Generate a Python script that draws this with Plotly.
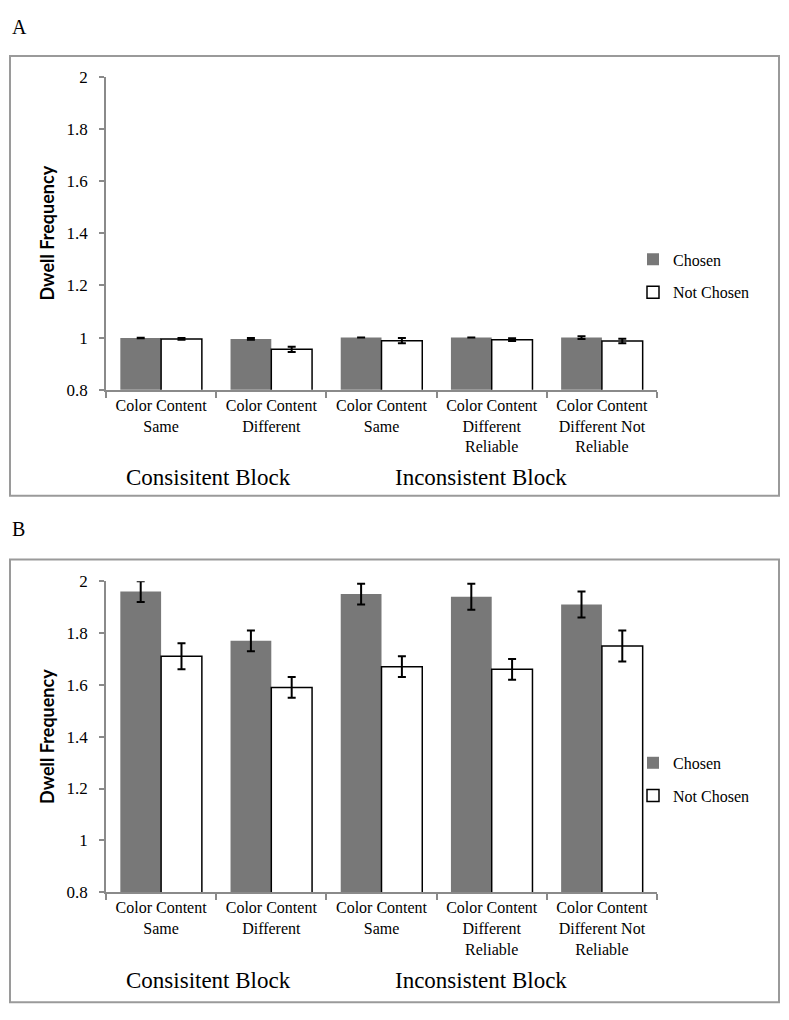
import plotly.graph_objects as go

# ---- data ----
categories = ["CB_same", "CB_diff", "IB_same", "IB_diff_rel", "IB_diff_notrel"]
tick_labels = [
    "Color Content<br>Same",
    "Color Content<br>Different",
    "Color Content<br>Same",
    "Color Content<br>Different<br>Reliable",
    "Color Content<br>Different Not<br>Reliable",
]
series_names = ["Chosen", "Not Chosen"]

a_chosen = [0.998, 0.995, 1.0, 1.0, 1.0]
a_chosen_err = [0.001, 0.003, 0.0, 0.0, 0.005]
a_not = [0.995, 0.955, 0.988, 0.992, 0.987]
a_not_err = [0.003, 0.010, 0.010, 0.005, 0.009]

b_chosen = [1.96, 1.77, 1.95, 1.94, 1.91]
b_chosen_err = [0.04, 0.04, 0.04, 0.05, 0.05]
b_not = [1.71, 1.59, 1.67, 1.66, 1.75]
b_not_err = [0.05, 0.04, 0.04, 0.04, 0.06]

block_labels = ["Consisitent Block", "Inconsistent Block"]
panel_labels = ["A", "B"]

W, H = 789, 1020
GRAY = "#787878"
AXC = "#8a8a8a"
SERIF = "Liberation Serif"


def px(x):
    return x / W


def py(y):
    return 1 - y / H


fig = go.Figure()

panels = [
    (a_chosen, a_chosen_err, a_not, a_not_err, "x", "y", "legend"),
    (b_chosen, b_chosen_err, b_not, b_not_err, "x2", "y2", "legend2"),
]
for ch, che, nc, nce, xa, ya, lg in panels:
    fig.add_trace(go.Bar(
        x=categories, y=ch, name=series_names[0], xaxis=xa, yaxis=ya,
        marker=dict(color=GRAY, line=dict(color=GRAY, width=0)),
        error_y=dict(type="data", array=che, color="black", thickness=2, width=4),
        legend=lg, legendgroup=lg + "c",
    ))
    fig.add_trace(go.Bar(
        x=categories, y=nc, name=series_names[1], xaxis=xa, yaxis=ya,
        marker=dict(color="white", line=dict(color="black", width=1.5)),
        error_y=dict(type="data", array=nce, color="black", thickness=2, width=4),
        legend=lg, legendgroup=lg + "n",
    ))

xdom = [px(106), px(657)]
common_x = dict(
    domain=xdom, type="category", tickmode="array", tickvals=categories,
    ticktext=tick_labels, showline=True, linecolor=AXC, linewidth=1.5,
    ticks="outside", tickson="boundaries", ticklen=6, tickcolor=AXC, tickwidth=1.5,
    tickfont=dict(family=SERIF, size=16, color="black"), showgrid=False,
    range=[-0.5, 4.5], fixedrange=True,
)
common_y = dict(
    range=[0.8, 2.0], dtick=0.2, tick0=0.8, showline=True, linecolor=AXC,
    linewidth=1.5, ticks="outside", ticklen=5, tickcolor=AXC, tickwidth=1.5,
    tickfont=dict(family=SERIF, size=17, color="black"), showgrid=False,
    zeroline=False, ticklabelstandoff=8, fixedrange=True,
    title=dict(text="<b>Dwell Frequency</b>", font=dict(family="Lato", size=18, color="black"), standoff=7),
)
legend_common = dict(
    font=dict(family=SERIF, size=16, color="black"), bgcolor="rgba(0,0,0,0)",
    traceorder="grouped", tracegroupgap=9, itemwidth=30,
    xanchor="left", yanchor="middle",
)

fig.update_layout(
    width=W, height=H, margin=dict(l=0, r=0, t=0, b=0),
    paper_bgcolor="white", plot_bgcolor="white",
    barmode="group", bargap=0.26, bargroupgap=0,
    showlegend=True,
    xaxis=dict(common_x, anchor="y"),
    yaxis=dict(common_y, domain=[py(388), py(69)], anchor="x"),
    xaxis2=dict(common_x, anchor="y2"),
    yaxis2=dict(common_y, domain=[py(900), py(583)], anchor="x2"),
    legend=dict(legend_common, x=px(633), y=py(272)),
    legend2=dict(legend_common, x=px(633), y=py(785)),
)

# panel frames
for top, bot in [(48, 496), (561, 1012)]:
    fig.add_shape(type="rect", xref="paper", yref="paper",
                  x0=px(10), x1=px(779), y0=py(bot), y1=py(top),
                  line=dict(color="#9a9a9a", width=2), fillcolor="rgba(0,0,0,0)")

# panel letters
for lab, yy in zip(panel_labels, [18, 530]):
    fig.add_annotation(text=lab, x=px(10), y=py(yy), xref="paper", yref="paper",
                       xanchor="left", yanchor="middle", showarrow=False,
                       font=dict(family=SERIF, size=20, color="black"))

# block labels
for yy in [477, 990]:
    for lab, xx in zip(block_labels, [208, 481]):
        fig.add_annotation(text=lab, x=px(xx), y=py(yy), xref="paper", yref="paper",
                           xanchor="center", yanchor="middle", showarrow=False,
                           font=dict(family=SERIF, size=23, color="black"))

fig.write_html("out.html", post_script="document.body.style.margin='0';",
               config={"displayModeBar": False})
